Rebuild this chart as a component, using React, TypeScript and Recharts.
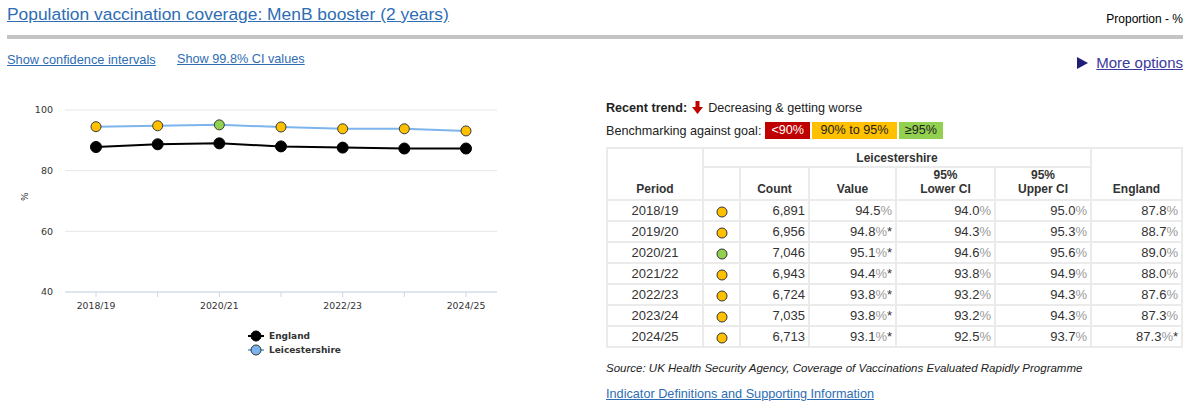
import { LineChart, Line, XAxis, YAxis, CartesianGrid } from 'recharts';

const periods = ['2018/19', '2019/20', '2020/21', '2021/22', '2022/23', '2023/24', '2024/25'];
const leicestershireValues = [94.5, 94.8, 95.1, 94.4, 93.8, 93.8, 93.1];
const englandValues = [87.8, 88.7, 89.0, 88.0, 87.6, 87.3, 87.3];
const counts = ['6,891', '6,956', '7,046', '6,943', '6,724', '7,035', '6,713'];
const lowerCI = [94.0, 94.3, 94.6, 93.8, 93.2, 93.2, 92.5];
const upperCI = [95.0, 95.3, 95.6, 94.9, 94.3, 94.3, 93.7];
const valueNotes = ['', '*', '*', '*', '*', '*', '*'];
const englandNotes = ['', '', '', '', '', '', '*'];
const yTicks = [40, 60, 80, 100];

const data = periods.map((period, i) => ({
  period,
  leics: leicestershireValues[i],
  england: englandValues[i],
}));

const benchColor = (v: number) => (v >= 95 ? '#92d050' : v >= 90 ? '#ffc000' : '#c00000');

const linkBlue = '#2e6db4';
const tickFont = { fontFamily: '"DejaVu Sans", sans-serif', fontSize: 9, fill: '#333' };

function LeicsDot(props: any) {
  const { cx, cy, payload, index } = props;
  return <circle key={`l-${index}`} cx={cx} cy={cy} r={5} fill={benchColor(payload.leics)} stroke="#3a3a3a" strokeWidth={1} />;
}

function XTick(props: any) {
  const { x, y, payload, index } = props;
  if (index % 2 !== 0) return <g />;
  return (
    <text x={x} y={y + 7} textAnchor="middle" dominantBaseline="middle" style={{ ...tickFont, fontSize: 9.3 }}>
      {payload.value}
    </text>
  );
}

function Pct({ v, note }: { v: number; note: string }) {
  return (
    <span>
      {v.toFixed(1)}
      <span style={{ color: '#999' }}>%</span>
      {note}
    </span>
  );
}

const th: React.CSSProperties = {
  border: '2px solid #ebebeb',
  fontWeight: 'bold',
  fontSize: 12,
  color: '#333',
  textAlign: 'center',
  verticalAlign: 'bottom',
  padding: '0 2px 3px 2px',
};
const td: React.CSSProperties = {
  border: '2px solid #ebebeb',
  fontSize: 13,
  color: '#333',
  textAlign: 'right',
  padding: '0 3px',
  height: 19,
};

export default function App() {
  return (
    <div
      style={{
        position: 'absolute',
        left: 0,
        top: 0,
        width: 1189,
        height: 403,
        background: '#fff',
        overflow: 'hidden',
        fontFamily: '"Liberation Sans", Arial, sans-serif',
      }}
    >
      <div style={{ position: 'absolute', left: 7, top: 4, fontSize: 17.4, color: linkBlue, textDecoration: 'underline' }}>
        Population vaccination coverage: MenB booster (2 years)
      </div>
      <div style={{ position: 'absolute', right: 6, top: 12, fontSize: 12, color: '#000' }}>Proportion - %</div>
      <div style={{ position: 'absolute', left: 7, right: 6, top: 35, height: 4, background: '#c4c4c4' }} />

      <div style={{ position: 'absolute', left: 7, top: 52, fontSize: 12.8, color: linkBlue, textDecoration: 'underline' }}>
        Show confidence intervals
      </div>
      <div style={{ position: 'absolute', left: 177, top: 52, fontSize: 12.7, color: linkBlue, textDecoration: 'underline' }}>
        Show 99.8% CI values
      </div>
      <div style={{ position: 'absolute', right: 6, top: 54, fontSize: 15, color: '#3a3a9e', display: 'flex', alignItems: 'center' }}>
        <svg width={11} height={12} style={{ marginRight: 8 }}>
          <polygon points="0,0 11,6 0,12" fill="#1f1f7a" />
        </svg>
        <span style={{ textDecoration: 'underline' }}>More options</span>
      </div>

      <div style={{ position: 'absolute', left: 0, top: 90 }}>
        <LineChart width={520} height={232} data={data} margin={{ top: 20, right: 23, left: 0, bottom: 0 }}>
          <CartesianGrid vertical={false} stroke="#e6e6e6" />
          <XAxis
            dataKey="period"
            interval={0}
            height={30}
            padding={{ left: 31, right: 31 }}
            stroke="#ccd6eb"
            tickSize={5}
            tick={<XTick />}
          />
          <YAxis
            domain={[40, 100]}
            ticks={yTicks}
            width={65}
            axisLine={false}
            tickLine={false}
            tickSize={0}
            tickMargin={12}
            tick={{ ...tickFont, fontSize: 9.5 }}
            label={{ value: '%', angle: -90, position: 'insideLeft', offset: 25, style: { ...tickFont, fontSize: 9 } }}
          />
          <Line
            dataKey="england"
            stroke="#000"
            strokeWidth={2}
            dot={{ r: 5.5, fill: '#000', stroke: '#000', strokeWidth: 1 }}
            isAnimationActive={false}
          />
          <Line dataKey="leics" stroke="#7cb5ec" strokeWidth={2} dot={<LeicsDot />} isAnimationActive={false} />
        </LineChart>
      </div>

      <div style={{ position: 'absolute', left: 248, top: 329, fontFamily: '"DejaVu Sans", sans-serif', fontSize: 9, fontWeight: 'bold', color: '#333' }}>
        {[
          { name: 'England', color: '#000' },
          { name: 'Leicestershire', color: '#7cb5ec' },
        ].map((it) => (
          <div key={it.name} style={{ display: 'flex', alignItems: 'center', height: 14 }}>
            <svg width={16} height={12} style={{ marginRight: 5 }}>
              <line x1={0} y1={6} x2={16} y2={6} stroke={it.color} strokeWidth={2} />
              <circle cx={8} cy={6} r={5} fill={it.color} stroke={it.color === '#000' ? '#000' : '#333'} strokeWidth={1} />
            </svg>
            {it.name}
          </div>
        ))}
      </div>

      <div style={{ position: 'absolute', left: 606, top: 101, fontSize: 12.6, color: '#222', display: 'flex', alignItems: 'center' }}>
        <b>Recent trend:</b>
        <svg width={12} height={14} style={{ margin: '0 4px 0 5px' }}>
          <rect x={3.5} y={0} width={4} height={7} fill="#c00000" />
          <polygon points="0,6 11,6 5.5,13" fill="#c00000" />
        </svg>
        Decreasing &amp; getting worse
      </div>
      <div style={{ position: 'absolute', left: 606, top: 122, fontSize: 12.6, color: '#222', display: 'flex', alignItems: 'center' }}>
        <span style={{ marginRight: 4 }}>Benchmarking against goal:</span>
        <span style={{ background: '#c00000', color: '#fff', padding: '1px 6px', height: 15, marginRight: 2 }}>&lt;90%</span>
        <span style={{ background: '#ffc000', color: '#222', padding: '1px 8.5px', height: 15, marginRight: 2 }}>90% to 95%</span>
        <span style={{ background: '#92d050', color: '#222', padding: '1px 6px', height: 15 }}>≥95%</span>
      </div>

      <table
        style={{
          position: 'absolute',
          left: 606,
          top: 147,
          borderCollapse: 'collapse',
          tableLayout: 'fixed',
          width: 577,
        }}
      >
        <colgroup>
          <col style={{ width: 96 }} />
          <col style={{ width: 37 }} />
          <col style={{ width: 69 }} />
          <col style={{ width: 87 }} />
          <col style={{ width: 99 }} />
          <col style={{ width: 96 }} />
          <col style={{ width: 91 }} />
        </colgroup>
        <thead>
          <tr style={{ height: 19 }}>
            <th rowSpan={2} style={th}>Period</th>
            <th colSpan={5} style={{ ...th, verticalAlign: 'middle', padding: 0 }}>Leicestershire</th>
            <th rowSpan={2} style={th}>England</th>
          </tr>
          <tr style={{ height: 33 }}>
            <th style={th}></th>
            <th style={th}>Count</th>
            <th style={th}>Value</th>
            <th style={th}>95%<br />Lower CI</th>
            <th style={th}>95%<br />Upper CI</th>
          </tr>
        </thead>
        <tbody>
          {periods.map((p, i) => (
            <tr key={p} style={{ height: 21 }}>
              <td style={{ ...td, textAlign: 'center' }}>{p}</td>
              <td style={{ ...td, textAlign: 'center' }}>
                <svg width={12} height={12} style={{ verticalAlign: 'middle' }}>
                  <circle cx={6} cy={6} r={5} fill={benchColor(leicestershireValues[i])} stroke="#333" strokeWidth={1} />
                </svg>
              </td>
              <td style={td}>{counts[i]}</td>
              <td style={td}><Pct v={leicestershireValues[i]} note={valueNotes[i]} /></td>
              <td style={td}><Pct v={lowerCI[i]} note="" /></td>
              <td style={td}><Pct v={upperCI[i]} note="" /></td>
              <td style={td}><Pct v={englandValues[i]} note={englandNotes[i]} /></td>
            </tr>
          ))}
        </tbody>
      </table>

      <div style={{ position: 'absolute', left: 606, top: 362, fontSize: 11.5, fontStyle: 'italic', color: '#222' }}>
        Source: UK Health Security Agency, Coverage of Vaccinations Evaluated Rapidly Programme
      </div>
      <div style={{ position: 'absolute', left: 606, top: 387, fontSize: 12.7, color: linkBlue, textDecoration: 'underline' }}>
        Indicator Definitions and Supporting Information
      </div>
    </div>
  );
}
